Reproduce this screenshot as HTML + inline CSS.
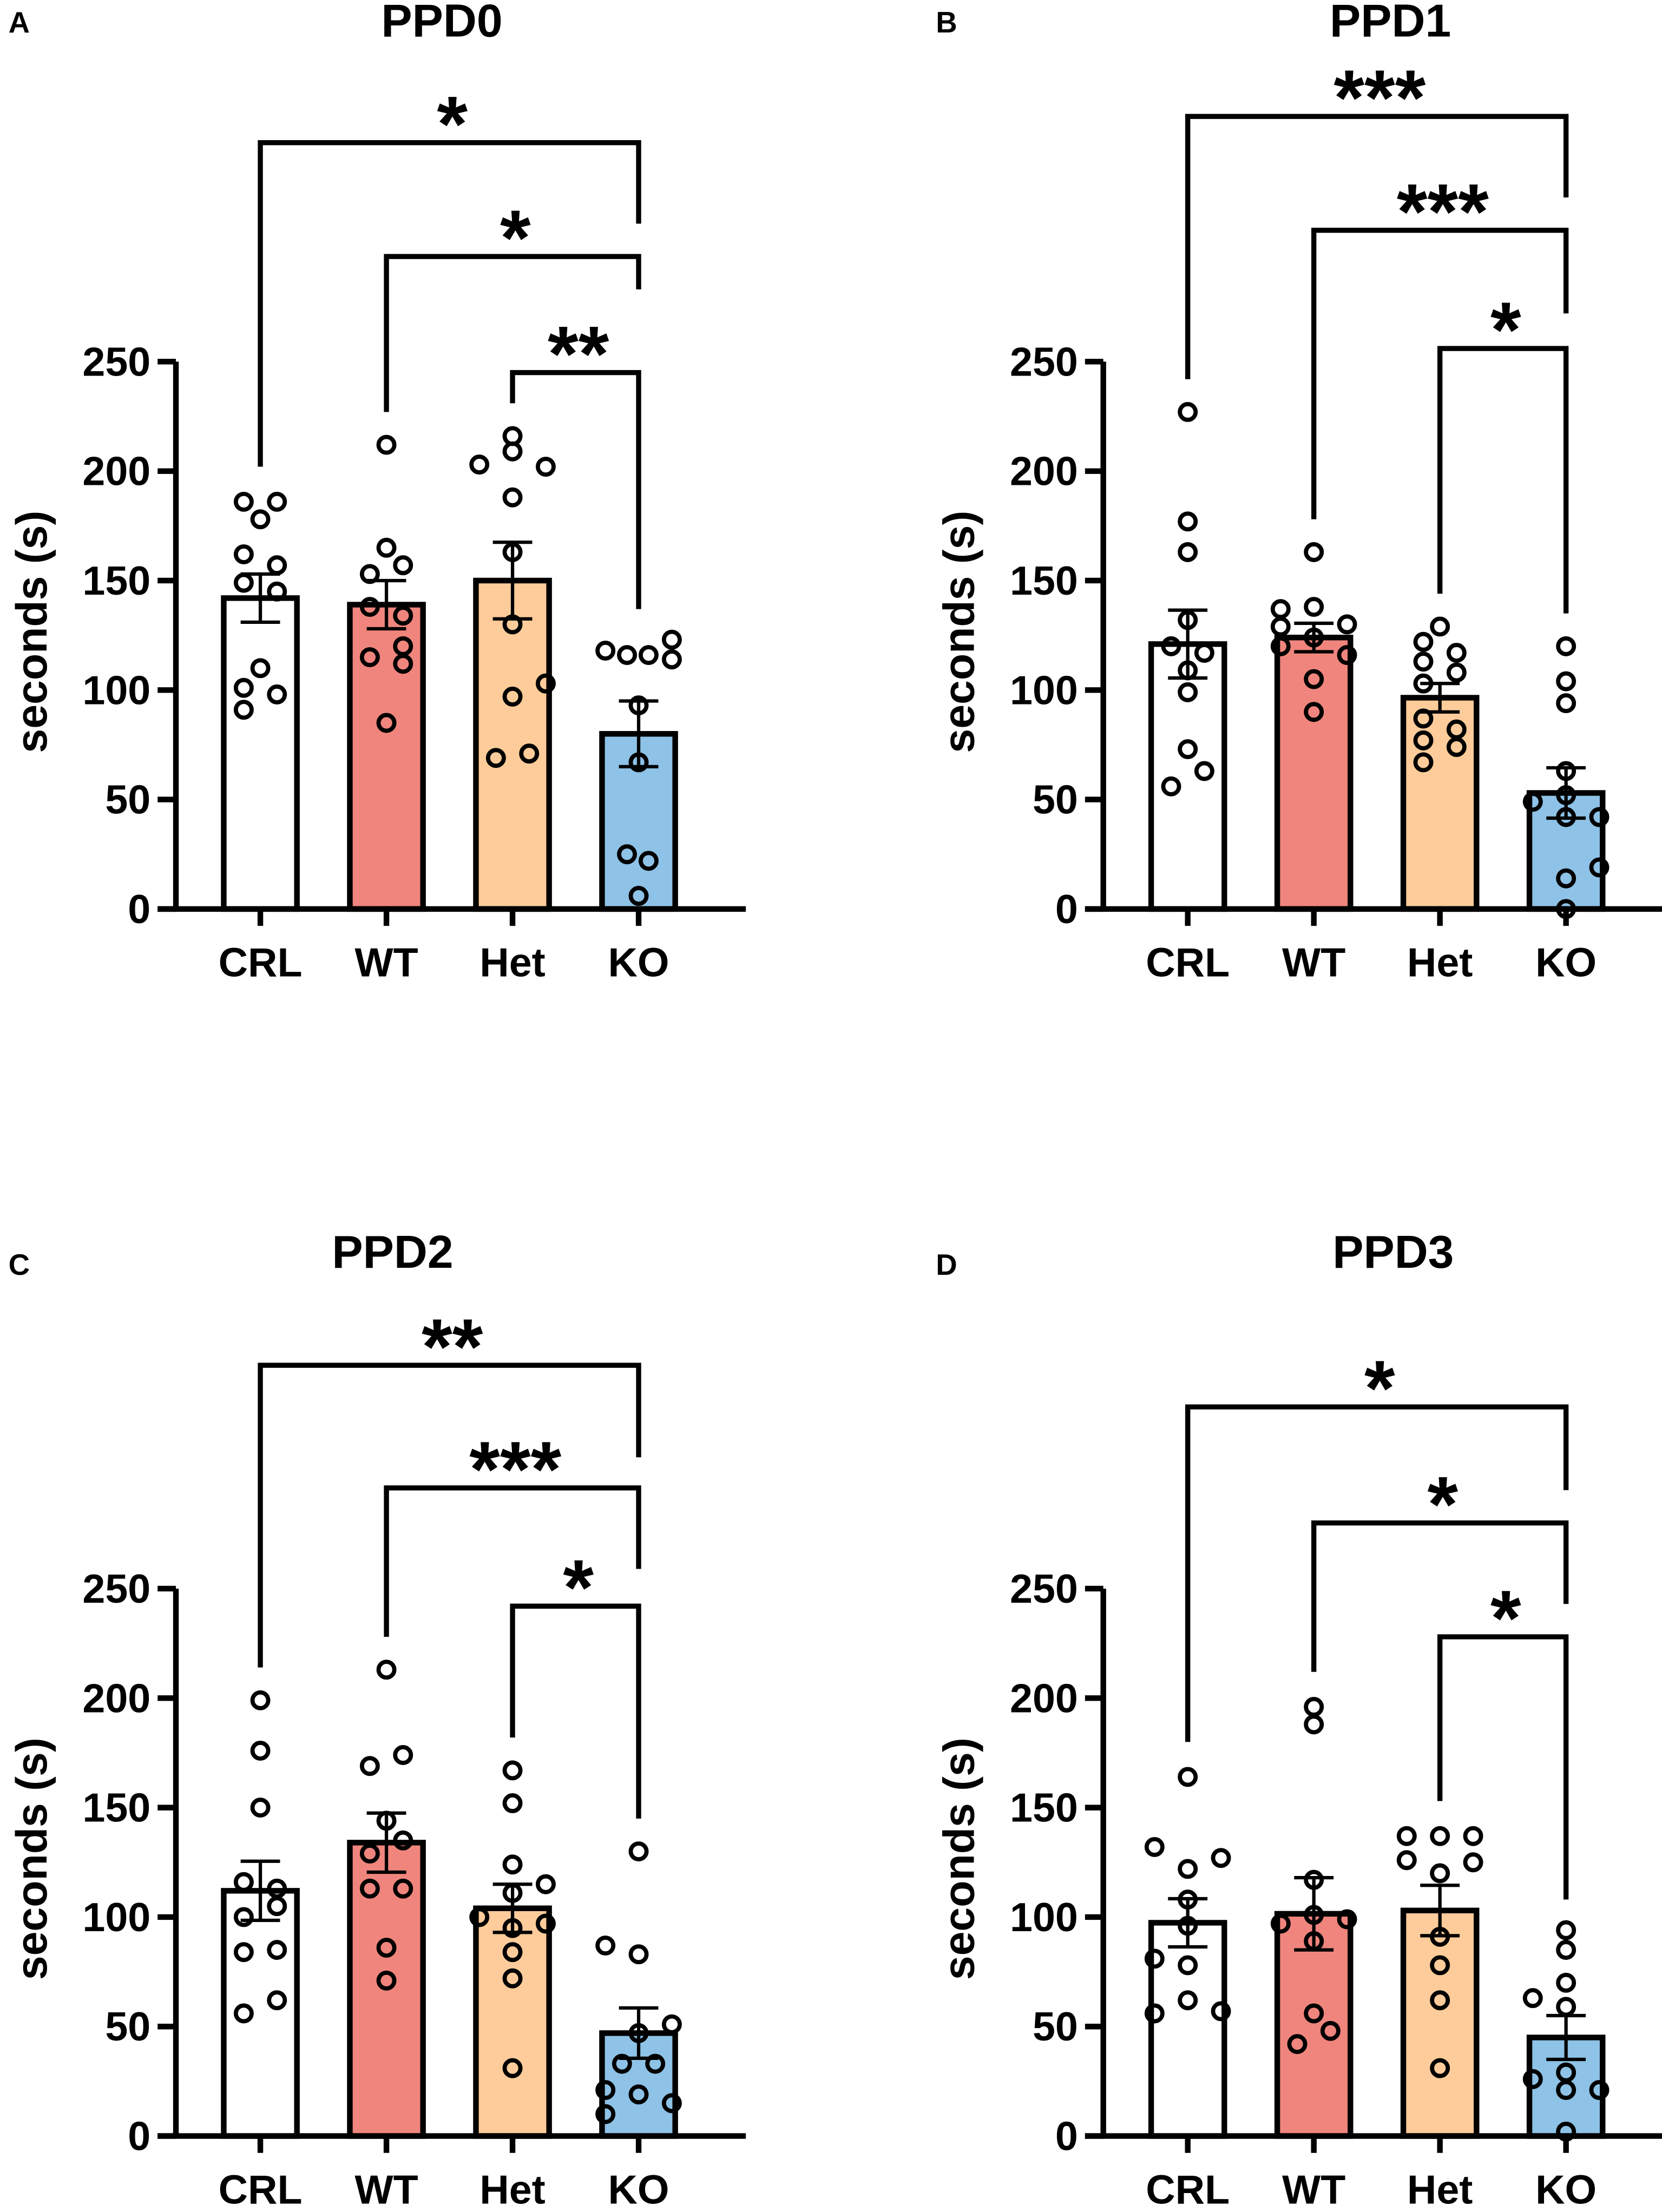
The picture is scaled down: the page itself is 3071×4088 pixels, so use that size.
<!DOCTYPE html>
<html><head><meta charset="utf-8"><style>
html,body{margin:0;padding:0;background:#fff;}
svg{display:block;}
text{font-family:"Liberation Sans",Arial,sans-serif;font-weight:bold;fill:#000;}
</style></head><body>
<svg id="fig" xmlns="http://www.w3.org/2000/svg" width="3071" height="4088" viewBox="0 0 1181 1572" preserveAspectRatio="none"></svg>
<script>
const categories = ["CRL","WT","Het","KO"];
const barColors = ["#ffffff","#ef857d","#fdcc9a","#8ec2e6"];
const yTicks = [0,50,100,150,200,250];

const ppd0Means = [142,139,150,80];
const ppd0Sem = [11,11,17.5,15];
const ppd0Points = [
 [186,186,178,162,157,149,145,110,101,98,91],
 [212,165,157,153,138,134,115,120,112,85],
 [216,209,203,202,188,163,130,103,97,69,71],
 [118,116,116,123,114,93,67,25,22,6]];
const ppd0Jitter = [
 [-1,1,0,-1,1,-1,1,0,-1,1,-1],
 [0,0,1,-1,-1,1,-1,1,1,0],
 [0,0,-2,2,0,0,0,2,0,-1,1],
 [-2,-0.7,0.6,2,2,0,0,-0.7,0.6,0]];
const ppd0Brackets = [[0,3,350,202,313,"*"],[1,3,298,227,283,"*"],[2,3,245,231,137,"**"]];

const ppd1Means = [121,124,96.5,53];
const ppd1Sem = [15.5,6.5,6.5,11.5];
const ppd1Points = [
 [227,177,163,132,120,117,109,99,73,63,56],
 [163,138,137,130,129,124,120,116,105,90],
 [129,122,117,113,108,103,87,82,77,74,67],
 [120,104,94,63,52,49,42,42,19,14,0]];
const ppd1Jitter = [
 [0,0,0,0,-1,1,0,0,0,1,-1],
 [0,0,-2,2,-2,0,-2,2,0,0],
 [0,-1,1,-1,1,-1,-1,1,-1,1,-1],
 [0,0,0,0,0,-2,0,2,2,0,0]];
const ppd1Brackets = [[0,3,362,242,325,"***"],[1,3,310,178,272,"***"],[2,3,256,144,135,"*"]];

const ppd2Means = [112,134,104,47];
const ppd2Sem = [13.5,13.5,11,11.5];
const ppd2Points = [
 [199,176,150,116,113,105,100,85,84,62,56],
 [213,174,169,144,135,129,113,113,86,71],
 [167,152,124,115,111,100,97,95,84,72,31],
 [130,87,83,51,47,33,33,21,19,15,10]];
const ppd2Jitter = [
 [0,0,0,-1,1,1,-1,1,-1,1,-1],
 [0,1,-1,0,1,-1,-1,1,0,0],
 [0,0,0,2,0,-2,2,0,0,0,0],
 [0,-2,0,2,0,-1,1,-2,0,2,-2]];
const ppd2Brackets = [[0,3,352,214,310,"**"],[1,3,296,228,259,"***"],[2,3,242,182,145,"*"]];

const ppd3Means = [97.4,101.5,103,45];
const ppd3Sem = [11,16.5,11.5,10];
const ppd3Points = [
 [164,132,127,122,108,96,81,78,62,56,57],
 [196,188,117,101,97,99,89,56,48,42],
 [137,137,137,126,125,120,91,78,62,31],
 [94,85,70,63,59,29,26,21,21,2]];
const ppd3Jitter = [
 [0,-2,2,0,0,0,-2,0,0,-2,2],
 [0,0,0,0,-2,2,0,0,1,-1],
 [-2,0,2,-2,2,0,0,0,0,0],
 [0,0,0,-2,0,0,-2,0,2,0]];
const ppd3Brackets = [[0,3,333,180,295,"*"],[1,3,280,212,243,"*"],[2,3,228,153,108,"*"]];

const NS = "http://www.w3.org/2000/svg";
const svg = document.getElementById("fig");
function mk(tag, attrs, parent){
  const e = document.createElementNS(NS, tag);
  for (const k in attrs) e.setAttribute(k, attrs[k]);
  (parent||svg).appendChild(e);
  return e;
}

function drawPanel(id, letter, title, ax, y0, titleX, titleY, labelY, means, sem, points, jitter, brackets){
  const g = mk("g", {});
  
  
  const ppu = 1.556;
  const yS = v => y0 - v * ppu;
  const xS = i => ax + 60 + i * 89.6;
  const barW = 52, jit = 11.8;

  const lab = mk("text", {x: ax - 119, y: labelY, "font-size": 21}, g);
  lab.textContent = letter;
  
  

  const t = mk("text", {x: titleX, y: titleY, "font-size": 33, "text-anchor": "middle"}, g);
  t.textContent = title;
  
  

  const yt = mk("text", {x: 0, y: 0, "font-size": 31, "text-anchor": "middle",
    transform: "translate(" + (ax - 92) + "," + (y0 - 197) + ") rotate(-90)"}, g);
  yt.textContent = "seconds (s)";
  
  

  means.forEach((m, i) => {
    const r = mk("rect", {x: xS(i) - barW/2, y: yS(m), width: barW, height: y0 - yS(m),
      fill: barColors[i], stroke: "#000", "stroke-width": 4}, g);
    
    
  });
  points.forEach((arr, i) => {
    arr.forEach((v, k) => {
      const c = mk("circle", {cx: xS(i) + jitter[i][k] * jit, cy: yS(v), r: 5.6,
        fill: "none", stroke: "#000", "stroke-width": 3}, g);
      
      
    });
  });
  means.forEach((m, i) => {
    const x = xS(i), hi = yS(m + sem[i]), lo = yS(m - sem[i]);
    const eg = mk("g", {stroke: "#000", "stroke-width": 2.4, fill: "none"}, g);
    
    
    mk("line", {x1: x, x2: x, y1: hi, y2: lo}, eg);
    mk("line", {x1: x - 14, x2: x + 14, y1: hi, y2: hi}, eg);
    mk("line", {x1: x - 14, x2: x + 14, y1: lo, y2: lo}, eg);
  });
  const yax = mk("path", {d: "M" + ax + "," + yS(250) + " V" + y0, stroke: "#000", "stroke-width": 4, fill: "none"}, g);
  
  
  const xax = mk("path", {d: "M" + (ax - 13) + "," + y0 + " H" + (ax + 405), stroke: "#000", "stroke-width": 4, fill: "none"}, g);
  
  
  yTicks.forEach(v => {
    mk("line", {x1: ax - 13, x2: ax, y1: yS(v), y2: yS(v), stroke: "#000", "stroke-width": 4}, g);
    const tl = mk("text", {x: ax - 18, y: yS(v) + 10, "font-size": 29, "text-anchor": "end"}, g);
    tl.textContent = v;
    
    
  });
  categories.forEach((c, i) => {
    mk("line", {x1: xS(i), x2: xS(i), y1: y0, y2: y0 + 12, stroke: "#000", "stroke-width": 4}, g);
    const cl = mk("text", {x: xS(i), y: y0 + 48, "font-size": 29, "text-anchor": "middle"}, g);
    cl.textContent = c;
    
    
  });
  brackets.forEach((b, k) => {
    const x1 = xS(b[0]), x2 = xS(b[1]), yb = yS(b[2]);
    const p = mk("path", {d: "M" + x1 + "," + yS(b[3]) + " V" + yb + " H" + x2 + " V" + yS(b[4]),
      stroke: "#000", "stroke-width": 3.6, fill: "none"}, g);
    
    
    const s = mk("text", {x: (x1 + x2) / 2 + 2, y: yb + 6, "font-size": 56, "text-anchor": "middle"}, g);
    s.textContent = b[5];
    
    
  });
}

drawPanel("ppd0", "A", "PPD0", 125, 646, 314, 26, 23, ppd0Means, ppd0Sem, ppd0Points, ppd0Jitter, ppd0Brackets);
drawPanel("ppd1", "B", "PPD1", 784, 646, 988, 26, 23, ppd1Means, ppd1Sem, ppd1Points, ppd1Jitter, ppd1Brackets);
drawPanel("ppd2", "C", "PPD2", 125, 1518, 279, 901, 906, ppd2Means, ppd2Sem, ppd2Points, ppd2Jitter, ppd2Brackets);
drawPanel("ppd3", "D", "PPD3", 784, 1518, 990, 901, 906, ppd3Means, ppd3Sem, ppd3Points, ppd3Jitter, ppd3Brackets);
</script>
</body></html>
